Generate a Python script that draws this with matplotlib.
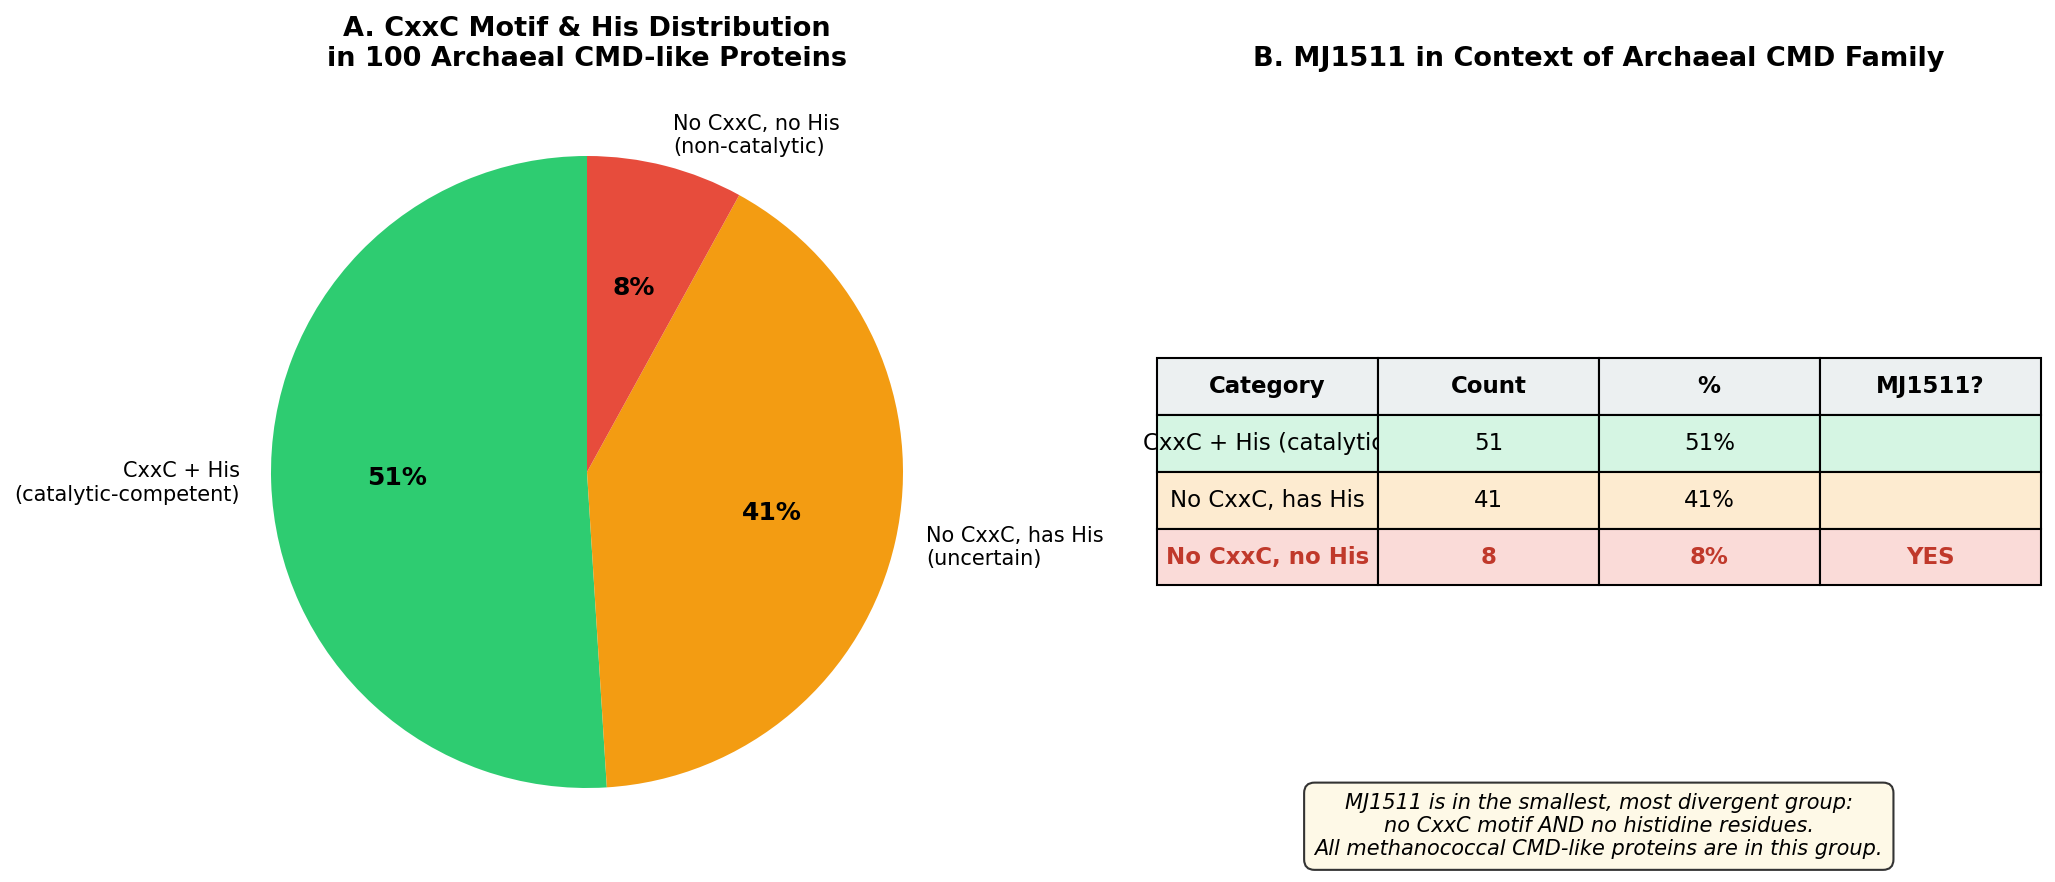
import matplotlib
matplotlib.use('Agg')
import matplotlib.pyplot as plt

# data
pie_labels = ['CxxC + His\n(catalytic-competent)', 'No CxxC, has His\n(uncertain)', 'No CxxC, no His\n(non-catalytic)']
pie_counts = [51, 41, 8]
pie_colors = ['#2ecc71', '#f39c12', '#e74c3c']

col_labels = ['Category', 'Count', '%', 'MJ1511?']
row_cats = ['CxxC + His (catalytic)', 'No CxxC, has His', 'No CxxC, no His']
row_counts = [51, 41, 8]
row_pcts = ['51%', '41%', '8%']
row_mj = ['', '', 'YES']
row_colors = ['#d5f5e3', '#fdebd0', '#fadbd8']

note = ('MJ1511 is in the smallest, most divergent group:\n'
        'no CxxC motif AND no histidine residues.\n'
        'All methanococcal CMD-like proteins are in this group.')

W, H = 2055, 882
fig = plt.figure(figsize=(W / 150, H / 150), dpi=150)

# A. pie
ax1 = fig.add_axes([(587 - 316) / W, 1 - (472 + 316) / H, 632 / W, 632 / H])
wedges, texts, autotexts = ax1.pie(pie_counts, labels=pie_labels, colors=pie_colors,
                                   autopct='%1.0f%%', startangle=90,
                                   textprops={'fontsize': 10})
for t in autotexts:
    t.set_fontsize(12)
    t.set_fontweight('bold')
ax1.set_xlim(-1, 1)
ax1.set_ylim(-1, 1)
ax1.set_aspect('equal')
fig.text(587 / W, 1 - 66 / H, 'A. CxxC Motif & His Distribution\nin 100 Archaeal CMD-like Proteins',
         ha='center', va='baseline', fontsize=13, fontweight='bold')

# B. table
ax2 = fig.add_axes([0.563, 0.014, 0.43, 0.895])
ax2.axis('off')
cell_text = [[c, str(n), p, m] for c, n, p, m in zip(row_cats, row_counts, row_pcts, row_mj)]
tbl = ax2.table(cellText=cell_text, colLabels=col_labels, cellLoc='center',
                bbox=[0, 0.36, 1, 0.288])
tbl.auto_set_font_size(False)
tbl.set_fontsize(11)
for j in range(len(col_labels)):
    c = tbl[0, j]
    c.set_facecolor('#ecf0f1')
    c.get_text().set_fontweight('bold')
for i in range(len(row_cats)):
    for j in range(len(col_labels)):
        c = tbl[i + 1, j]
        c.set_facecolor(row_colors[i])
        if row_mj[i] == 'YES':
            c.get_text().set_color('#c0392b')
            c.get_text().set_fontweight('bold')
fig.text(0.778, 1 - 66 / H, 'B. MJ1511 in Context of Archaeal CMD Family',
         ha='center', va='baseline', fontsize=13, fontweight='bold')

ax2.text(0.5, 0.055, note, transform=ax2.transAxes, ha='center', va='center',
         fontsize=10, style='italic',
         bbox=dict(boxstyle='round,pad=0.5', facecolor='#fef9e7', edgecolor='#333333'))

fig.savefig('out.png', dpi=150)
